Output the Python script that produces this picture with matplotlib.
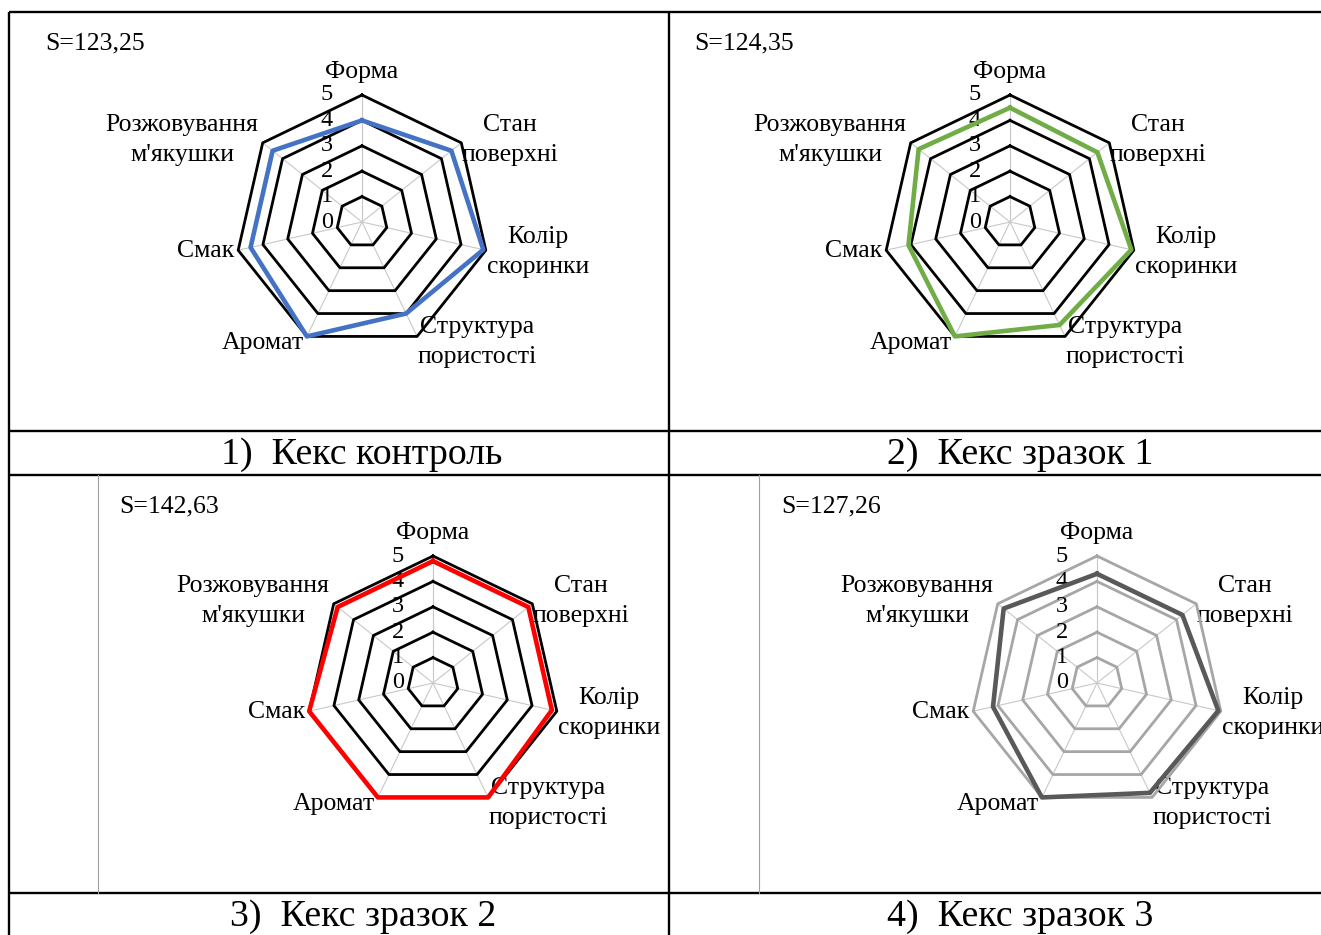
import numpy as np
import matplotlib.pyplot as plt

plt.rcParams['font.family'] = ['Liberation Serif', 'DejaVu Serif']

# Показники органолептичної оцінки
categories = ['Форма', 'Стан\nповерхні', 'Колір\nскоринки', 'Структура\nпористості',
              'Аромат', 'Смак', "Розжовування\nм'якушки"]
control = [4.0, 4.5, 4.9, 4.0, 5.0, 4.5, 4.5]
sample1 = [4.5, 4.4, 4.9, 4.5, 5.0, 4.1, 4.6]
sample2 = [4.8, 4.8, 4.8, 5.0, 5.0, 5.0, 4.8]
sample3 = [4.3, 4.3, 4.9, 4.8, 5.0, 4.2, 4.7]
ticks = [0, 1, 2, 3, 4, 5]
areas = ['S=123,25', 'S=124,35', 'S=142,63', 'S=127,26']
captions = ['1)  Кекс контроль', '2)  Кекс зразок 1', '3)  Кекс зразок 2', '4)  Кекс зразок 3']

W, H = 1321, 935
fig = plt.figure(figsize=(W / 100, H / 100), dpi=100)

# таблиця (координати в пікселях)
page = fig.add_axes([0, 0, 1, 1])
page.set_xlim(0, W)
page.set_ylim(H, 0)
page.axis('off')
lw_tab = 1.7
for y in [12, 431, 475, 893]:
    page.plot([9, W], [y, y], color='black', lw=lw_tab, solid_capstyle='butt')
for x in [9, 669]:
    page.plot([x, x], [12, H], color='black', lw=lw_tab, solid_capstyle='butt')
page.plot([98, 98], [475, 893], color='#a0a0a0', lw=0.8)
page.plot([759, 759], [475, 893], color='#a0a0a0', lw=0.8)

centers = [(362, 222), (1010, 222), (433, 683), (1097, 683)]
R = 127
series = [control, sample1, sample2, sample3]
line_colors = ['#4472C4', '#70AD47', '#FF0000', '#595959']
grid_colors = ['black', 'black', 'black', '#A6A6A6']
s_pos = [(45, 43), (694, 43), (119, 506), (781, 506)]
cap_pos = [(362, 455), (1020, 455), (363, 917), (1020, 917)]
label_off = [(0, -150), (148, -82), (176, 30), (115, 120), (-99, 121), (-156, 29), (-180, -82)]

fs = 18.5
theta = np.arange(len(categories)) * 2 * np.pi / len(categories)
th_closed = np.append(theta, theta[0])

for i in range(4):
    cx, cy = centers[i]
    ax = fig.add_axes([(cx - R) / W, 1 - (cy + R) / H, 2 * R / W, 2 * R / H],
                      projection='polar')
    ax.set_theta_zero_location('N')
    ax.set_theta_direction(-1)
    ax.set_ylim(0, 5)
    ax.grid(False)
    ax.spines['polar'].set_visible(False)
    ax.set_xticks([])
    ax.set_yticks([])
    ax.patch.set_alpha(0)

    for t in theta:
        ax.plot([t, t], [0, 5], color='#C8C8C8', lw=0.8, clip_on=False)
    for r in ticks[1:]:
        ax.plot(th_closed, [r] * len(th_closed), color=grid_colors[i], lw=2.0,
                clip_on=False)
    vals = series[i] + series[i][:1]
    ax.plot(th_closed, vals, color=line_colors[i], lw=3.3, clip_on=False, zorder=5)

    for v in ticks:
        ax.annotate(str(v), xy=(0, v), xytext=(-29, 0), textcoords='offset pixels',
                    ha='right', va='center', fontsize=17.5)

    for lab, (dx, dy) in zip(categories, label_off):
        page.text(cx + dx, cy + dy, lab, ha='center', va='center', fontsize=fs,
                  linespacing=1.5)

    page.text(s_pos[i][0], s_pos[i][1], areas[i], ha='left', va='center', fontsize=fs)
    page.text(cap_pos[i][0], cap_pos[i][1], captions[i], ha='center', va='center',
              fontsize=27.3)

fig.savefig('out.png', dpi=100)
